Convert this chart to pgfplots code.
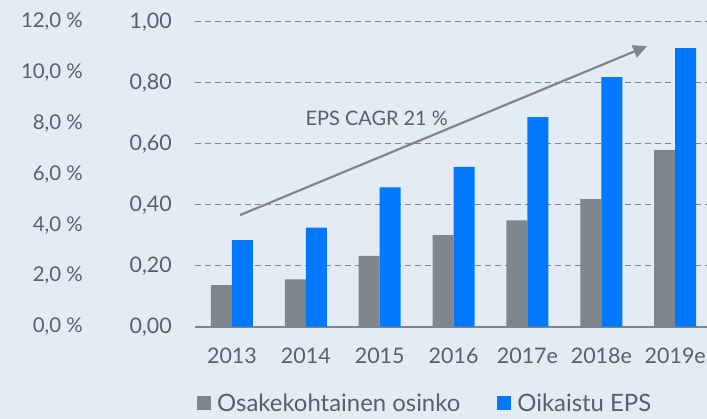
\documentclass[border=0pt]{standalone}
\usepackage{pgfplots}
\pgfplotsset{compat=1.18}
\usepackage{pgfplotstable}
\usepackage{fontspec}
\setmainfont{Lato}
\usetikzlibrary{arrows.meta}

\definecolor{bg}{HTML}{E4EBF5}
\definecolor{txt}{HTML}{58606B}
\definecolor{grbar}{HTML}{7F878C}
\definecolor{blbar}{HTML}{0078FF}
\definecolor{gridc}{HTML}{80868B}

% dividend per share and adjusted EPS
\pgfplotstableread{
x div eps
0 0.136 0.284
1 0.155 0.325
2 0.232 0.457
3 0.300 0.524
4 0.349 0.687
5 0.418 0.818
6 0.579 0.913
}\data

\newcommand{\tickfont}{\fontsize{21.5}{25}\selectfont}

\begin{document}
\begin{tikzpicture}
\fill[bg] (0bp,0bp) rectangle (707bp,419bp);
\useasboundingbox (0bp,0bp) rectangle (707bp,419bp);

% percent scale on the far left
\begin{axis}[
    at={(195bp,92.3bp)}, anchor=south west,
    scale only axis, width=512bp, height=305bp,
    xmin=-0.5, xmax=6.43, ymin=0, ymax=12,
    hide x axis,
    axis y line*=left, y axis line style={draw=none},
    major tick length=0pt,
    ytick={0,2,...,12},
    yticklabels={{0,0 \%},{2,0 \%},{4,0 \%},{6,0 \%},{8,0 \%},{10,0 \%},{12,0 \%}},
    yticklabel style={font=\fontsize{20.5}{24}\selectfont, text=txt, inner sep=0pt, anchor=east, xshift=-112bp},
]
\addplot[draw=none] coordinates {(0,0)};
\end{axis}

\begin{axis}[
    at={(195bp,92.3bp)}, anchor=south west,
    scale only axis, width=512bp, height=305bp,
    ybar=0pt, bar width=21bp,
    xmin=-0.5, xmax=6.43, ymin=0, ymax=1,
    axis x line*=bottom, axis y line*=left,
    x axis line style={gridc, line width=2bp},
    y axis line style={draw=none},
    major tick length=0pt,
    xtick={0,...,6},
    xticklabels={2013,2014,2015,2016,2017e,2018e,2019e},
    xticklabel style={font=\tickfont, text=txt, inner sep=0pt, anchor=north, yshift=-21bp},
    ytick={0,0.2,...,1.0},
    yticklabels={{0,00},{0,20},{0,40},{0,60},{0,80},{1,00}},
    yticklabel style={font=\tickfont, text=txt, inner sep=0pt, anchor=east, xshift=-23bp},
    ymajorgrids,
    grid style={gridc, line width=1.5bp, dash pattern=on 6bp off 4bp},
    legend style={at={(0.004,-0.25)}, anchor=west, draw=none, fill=none,
        legend columns=2, font=\fontsize{24}{28}\selectfont, text=txt, inner sep=0pt,
        nodes={inner sep=0pt},
        /tikz/every odd column/.append style={column sep=6bp},
        /tikz/every even column/.append style={column sep=37bp}},
]
\addplot[fill=grbar, draw=none,
    legend image code/.code={\fill[grbar] (0bp,-7bp) rectangle (14bp,7bp);}]
    table[x=x, y=div] {\data};
\addlegendentry{Osakekohtainen osinko}
\addplot[fill=blbar, draw=none,
    legend image code/.code={\fill[blbar] (0bp,-7bp) rectangle (14bp,7bp);}]
    table[x=x, y=eps] {\data};
\addlegendentry{Oikaistu EPS}

\draw[gridc, line width=2.2bp, -{Triangle[length=14bp, width=13bp]}]
    (axis cs:0.11,0.366) -- (axis cs:5.62,0.92);
\node[font=\fontsize{20}{24}\selectfont, text=txt] at (axis cs:1.96,0.684) {EPS CAGR 21 \%};
\end{axis}
\end{tikzpicture}
\end{document}
